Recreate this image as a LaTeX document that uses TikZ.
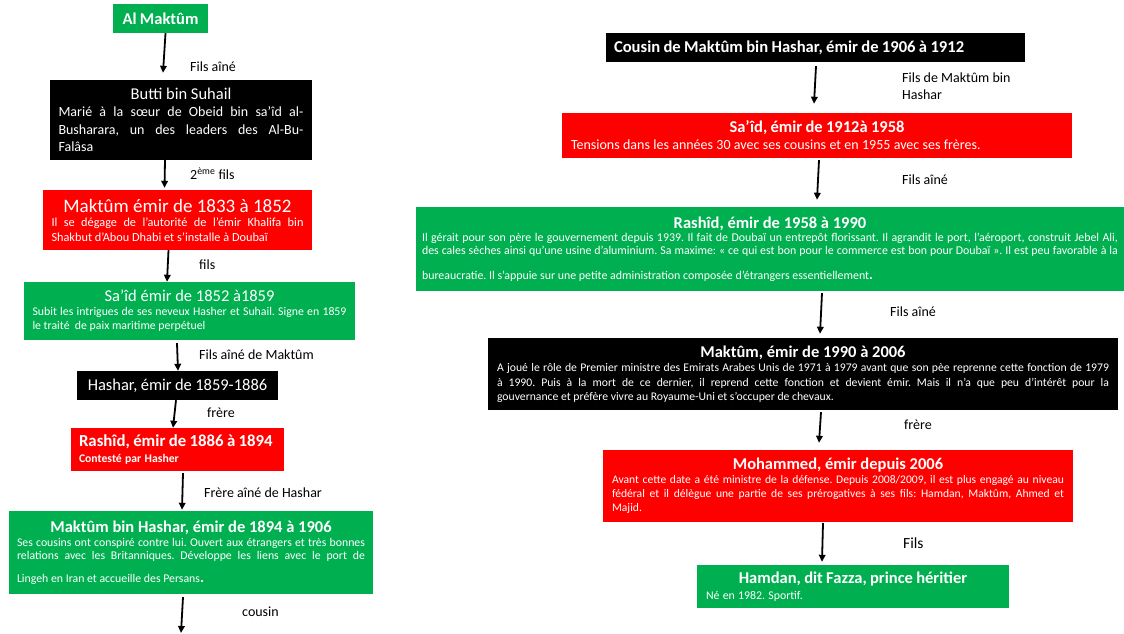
\documentclass[tikz,border=0pt]{standalone}
\usepackage{fontspec}
\setmainfont{Carlito}
\usetikzlibrary{arrows.meta}
\definecolor{xgreen}{HTML}{00B050}
\definecolor{xred}{HTML}{FF0000}
\newcommand{\fs}[2]{\fontsize{#1}{#2}\selectfont}
\hbadness=10000
\hfuzz=4pt
\frenchspacing
\begin{document}
\begin{tikzpicture}[x=1pt,y=-1pt,
  box/.style={inner xsep=8.5pt, inner ysep=0pt, text=white, anchor=center, align=justify},
  gbox/.style={box, fill=xgreen},
  rbox/.style={box, fill=xred},
  kbox/.style={box, fill=black},
  arr/.style={line width=1.8pt, -{Triangle[width=6.5pt,length=7pt]}},
  lab/.style={anchor=west, inner sep=0pt, font=\fs{14}{17}}]
\useasboundingbox (0,0) rectangle (1124,634);

% ---------- left column ----------
\node[gbox, align=center, text width=78pt, minimum height=29pt] (alm) at (160.5,18.5)
  {\fs{16.5}{19}\bfseries Al Maktûm};

\node[kbox, text width=245pt, minimum height=80pt] (butti) at (181,120)
  {{\centering\fs{16.5}{19}Butti bin Suhail\par}
   \fs{14}{17.5}Marié à la sœur de Obeid bin sa’îd al-\linebreak Busharara, un des leaders des Al-Bu-\linebreak Falâsa\par};

\node[rbox, text width=252pt, minimum height=60pt] (mak1) at (177.5,220)
  {{\centering\fs{19}{21}Maktûm émir de 1833 à 1852\par}
   \fs{12.3}{14.5}Il se dégage de l’autorité de l’émir Khalifa bin\linebreak Shakbut d’Abou Dhabi et s’installe à Doubaï\par};

\node[gbox, text width=314pt, minimum height=58pt] (said1) at (189.5,311)
  {{\centering\fs{16.5}{19}Sa’îd émir de 1852 à1859\par}
   \fs{11.8}{14}Subit les intrigues de ses neveux Hasher et Suhail. Signe en 1859\linebreak le traité\ \ de paix maritime perpétuel\par};

\node[kbox, align=center, text width=184pt, minimum height=29pt] (hashar) at (177.5,385.5)
  {\fs{16.5}{19}Hashar, émir de 1859-1886};

\node[rbox, align=left, inner xsep=8pt, text width=197pt, minimum height=43pt] (rash1) at (177.5,449.5)
  {\fs{16.8}{17}\bfseries Rashîd, émir de 1886 à 1894\\
   \fs{11.7}{16}Contesté par Hasher\par};

\node[gbox, inner xsep=8pt, text width=348pt, minimum height=83pt] (mbh) at (191,552.5)
  {{\centering\fs{16.5}{19}\bfseries Maktûm bin Hashar, émir de 1894 à 1906\par}
   \fs{11.8}{13.5}Ses cousins ont conspiré contre lui. Ouvert aux étrangers et très bonnes\linebreak relations avec les Britanniques. Développe les liens avec le port de\vadjust{\vskip 9pt}\linebreak Lingeh en Iran et accueille des Persans{\fs{15}{13}\bfseries .}\par};

\coordinate (endL) at (181,633);

% ---------- right column ----------
\node[kbox, align=left, inner xsep=8pt, text width=403pt, minimum height=29pt] (cousin) at (815.5,47.5)
  {\fs{16.6}{19}\bfseries Cousin de Maktûm bin Hashar, émir de 1906 à 1912};

\node[rbox, align=left, inner xsep=9pt, text width=492pt, minimum height=45pt] (said2) at (817,135.5)
  {{\centering\fs{16.5}{18}\bfseries Sa’îd, émir de 1912à 1958\par}
   \fs{14}{17}Tensions dans les années 30 avec ses cousins et en 1955 avec ses frères.\par};

\node[gbox, inner xsep=6pt, text width=696pt, minimum height=84pt] (rash2) at (770,249)
  {{\centering\fs{16.5}{18}\bfseries Rashîd, émir de 1958 à 1990\par}
   \fs{11.9}{13}Il gérait pour son père le gouvernement depuis 1939. Il fait de Doubaï un entrepôt florissant. Il agrandit le port, l’aéroport, construit Jebel Ali,\linebreak des cales sèches ainsi qu’une usine d’aluminium. Sa maxime: « ce qui est bon pour le commerce est bon pour Doubaï ». Il est peu favorable à la\vadjust{\vskip 12pt}\linebreak bureaucratie. Il s’appuie sur une petite administration composée d’étrangers essentiellement{\fs{14}{13}\bfseries .}\par};

\node[kbox, inner xsep=9pt, text width=612pt, minimum height=72pt] (mak3) at (803,374)
  {{\centering\fs{16.5}{18}\bfseries Maktûm, émir de 1990 à 2006\par}
   \fs{11.7}{14.5}A joué le rôle de Premier ministre des Emirats Arabes Unis de 1971 à 1979 avant que son pèe reprenne cette fonction de 1979\linebreak à 1990. Puis à la mort de ce dernier, il reprend cette fonction et devient émir. Mais il n’a que peu d’intérêt pour la\linebreak gouvernance et préfère vivre au Royaume-Uni et s’occuper de chevaux.\par};

\node[rbox, inner xsep=9pt, text width=452pt, minimum height=72pt] (moh) at (838,486)
  {{\centering\fs{16.5}{18}\bfseries Mohammed, émir depuis 2006\par}
   \fs{11.6}{14}Avant cette date a été ministre de la défense. Depuis 2008/2009, il est plus engagé au niveau\linebreak fédéral et il délègue une partie de ses prérogatives à ses fils: Hamdan, Maktûm, Ahmed et\linebreak Majid.\par};

\node[gbox, align=left, inner xsep=9pt, text width=294pt, minimum height=43pt] (hamdan) at (853,586.5)
  {{\centering\fs{16.5}{18}\bfseries Hamdan, dit Fazza, prince héritier\par}
   \fs{11.8}{16}Né en 1982. Sportif.\par};

% ---------- connectors ----------
\draw[arr] ([xshift=5pt]alm.south) -- ([xshift=-18pt,yshift=7pt]butti.north);
\draw[arr] ([xshift=-16pt]butti.south) -- ([xshift=-13pt,yshift=2pt]mak1.north);
\draw[arr] ([xshift=-9pt]mak1.south) -- ([xshift=-22.5pt]said1.north);
\draw[arr] ([xshift=-12.5pt,yshift=-3pt]said1.south) -- ([xshift=0.5pt]hashar.north);
\draw[arr] ([xshift=-1.5pt]hashar.south) -- ([xshift=-4.5pt]rash1.north);
\draw[arr] ([xshift=5.5pt,yshift=-2pt]rash1.south) -- ([xshift=-9pt,yshift=1pt]mbh.north);
\draw[arr] ([xshift=-8pt,yshift=-3pt]mbh.south) -- (endL);

\draw[arr] ([xshift=0.5pt,yshift=-4pt]cousin.south) -- ([xshift=-3pt,yshift=9pt]said2.north);
\draw[arr] ([xshift=2pt,yshift=-2pt]said2.south) -- ([xshift=47pt,yshift=7pt]rash2.north);
\draw[arr] ([xshift=52pt,yshift=-2pt]rash2.south) -- ([xshift=17pt,yshift=4pt]mak3.north);
\draw[arr] ([xshift=18pt,yshift=-2pt]mak3.south) -- ([xshift=-19pt,yshift=7pt]moh.north);
\draw[arr] ([xshift=-15pt,yshift=-1pt]moh.south) -- ([xshift=-31pt,yshift=3pt]hamdan.north);

% ---------- labels ----------
\node[lab] (l1) at (190,67) {Fils aîné};
\node[lab] (l2) at (190,174) {2\textsuperscript{ème} fils};
\node[lab] (l3) at (199,265) {fils};
\node[lab] (l4) at (199,355) {Fils aîné de Maktûm};
\node[lab] (l5) at (207,413) {frère};
\node[lab] (l6) at (204,493) {Frère aîné de Hashar};
\node[lab] (l7) at (242,612) {cousin};

\node[lab, align=left] (r1) at (902,86.5) {Fils de Maktûm bin\\Hashar};
\node[lab] (r2) at (902,180) {Fils aîné};
\node[lab] (r3) at (890,312) {Fils aîné};
\node[lab] (r4) at (904,425) {frère};
\node[lab, font=\fs{15.5}{18}] (r5) at (903,543) {Fils};
\end{tikzpicture}
\end{document}
